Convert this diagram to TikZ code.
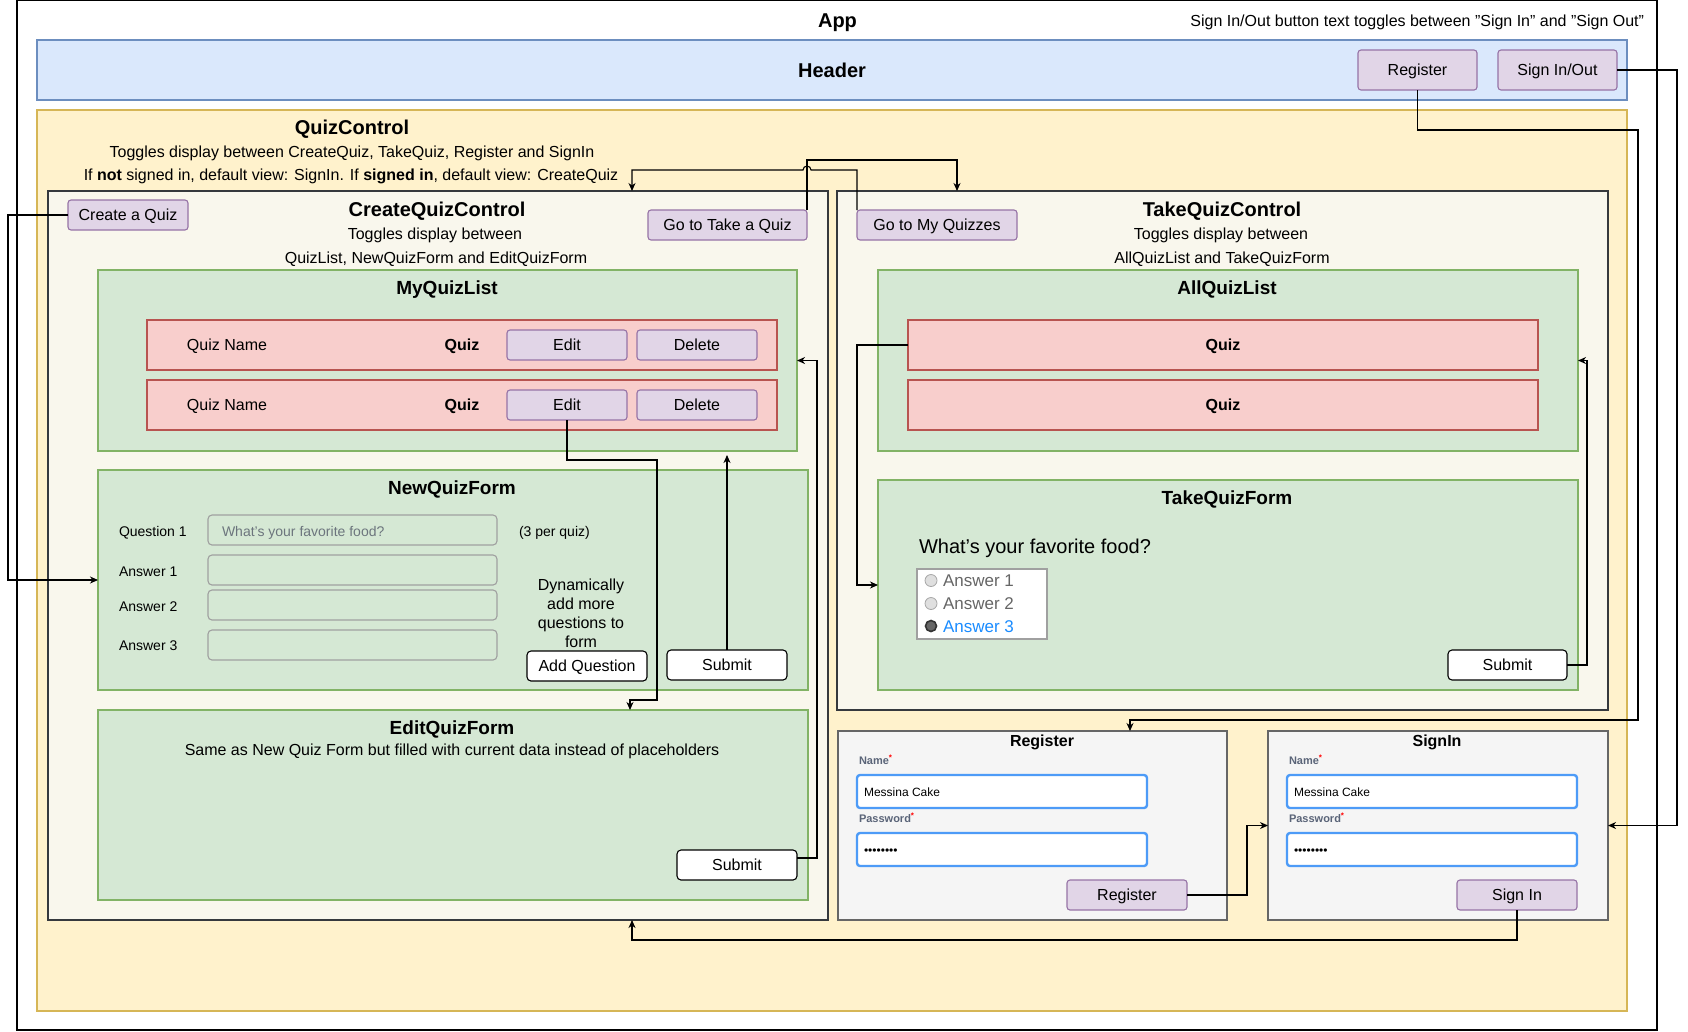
\documentclass[tikz,border=0pt]{standalone}
\usepackage{fontspec}
\setmainfont{Liberation Sans}
\usetikzlibrary{arrows.meta,calc}

\definecolor{hdrfill}{HTML}{DAE8FC}\definecolor{hdrline}{HTML}{6C8EBF}
\definecolor{qcfill}{HTML}{FFF2CC}\definecolor{qcline}{HTML}{D6B656}
\definecolor{ctrlfill}{HTML}{F9F7ED}\definecolor{ctrlline}{HTML}{36393D}
\definecolor{grnfill}{HTML}{D5E8D4}\definecolor{grnline}{HTML}{82B366}
\definecolor{redfill}{HTML}{F8CECC}\definecolor{redline}{HTML}{B85450}
\definecolor{purfill}{HTML}{E1D5E7}\definecolor{purline}{HTML}{9673A6}
\definecolor{grayfill}{HTML}{F5F5F5}\definecolor{grayline}{HTML}{666666}
\definecolor{inpline}{HTML}{A0A0A0}
\definecolor{focusline}{HTML}{4D9BF7}
\definecolor{labelgray}{HTML}{5A6478}
\definecolor{holder}{HTML}{6C757D}
\definecolor{radiotext}{HTML}{666666}
\definecolor{radioblue}{HTML}{1A8CFF}

\newcommand{\fsz}[1]{\fontsize{#1}{19}\selectfont}
% box node from its corners: name, style, x1, y1, x2, y2, text
\newcommand{\bx}[7]{\node[box,#2,minimum width={#5-#3},minimum height={#6-#4}] (#1) at ({(#3+#5)/2},{(#4+#6)/2}) {#7};}
\newcommand{\req}{\textcolor{red}{\raisebox{4pt}{\fsz{8}*}}}

\tikzset{
  % text box as tall as a capital letter, so that the node centre is the cap middle
  fs/.style={text height={0.72*#1},text depth=0pt},
  box/.style={draw,line width=1.1pt,inner sep=0pt,outer sep=0pt,font={\fsz{16}},fs=16},
  appbox/.style={fill=white,draw=black},
  hdr/.style={fill=hdrfill,draw=hdrline},
  qc/.style={fill=qcfill,draw=qcline},
  ctrl/.style={fill=ctrlfill,draw=ctrlline},
  grn/.style={fill=grnfill,draw=grnline},
  redrow/.style={fill=redfill,draw=redline},
  pbtn/.style={fill=purfill,draw=purline,rounded corners=3pt},
  wbtn/.style={fill=white,draw=black,rounded corners=4pt},
  gbox/.style={fill=grayfill,draw=grayline},
  inp/.style={fill=grnfill,draw=inpline,rounded corners=4pt},
  focusinp/.style={fill=white,draw=focusline,line width=2.4pt,rounded corners=3pt},
  radiobox/.style={fill=white,draw=inpline},
  txt/.style={inner sep=0pt,outer sep=0pt,font={\fsz{16}},fs=16},
  ttl/.style={txt,font={\bfseries\fsz{20}},fs=20},
  sub/.style={txt,font={\bfseries\fsz{19}},fs=19},
  lbl/.style={txt,anchor=west,font={\fsz{14}},fs=14},
  flbl/.style={txt,anchor=west,font={\bfseries\fsz{11}},fs=11,text=labelgray},
  ftxt/.style={txt,anchor=west,font={\fsz{12}},fs=12},
  radio/.style={circle,draw=gray!70,fill=gray!25,line width=0.8pt,minimum size=12pt,inner sep=0pt},
  radioon/.style={circle,draw=black!80,fill=black!60,line width=1.6pt,minimum size=12pt,inner sep=0pt},
  rtxt/.style={txt,anchor=west,font={\fsz{17}},fs=17,text=radiotext},
  conn/.style={draw,line width=1.1pt,-{Stealth[length=8pt,width=7pt,inset=2.5pt]}},
}

\begin{document}
\begin{tikzpicture}[x=1pt,y=-1pt]
\useasboundingbox (0,0) rectangle (1688,1031);

% outer containers
\bx{app}{appbox}{17}{0.6}{1657}{1030}{}
\bx{header}{hdr}{37}{40}{1627}{100}{}
\bx{quizctl}{qc}{37}{110}{1627}{1011}{}
\bx{createctrl}{ctrl}{48}{191}{828}{920}{}
\bx{takectrl}{ctrl}{837}{191}{1608}{710}{}

% app and header texts
\node[ttl] (apptitle) at (837.5,20) {App};
\node[txt,anchor=east] (note) at (1644,21) {Sign In/Out button text toggles between "Sign In" and "Sign Out"};
\node[ttl] (hdrtitle) at (header.center) {Header};
\bx{hreg}{pbtn}{1358}{50}{1477}{90}{Register}
\bx{hsign}{pbtn}{1498}{50}{1617}{90}{Sign In/Out}

% quiz control texts
\node[ttl] (qctitle) at (352,127) {QuizControl};
\node[txt] (qcdesc1) at (352,152) {Toggles display between CreateQuiz, TakeQuiz, Register and SignIn};
\node[txt] (qcdesc2) at (351,175) {If \textbf{not} signed in, default view: SignIn. If \textbf{signed in}, default view: CreateQuiz};

% create quiz control
\node[ttl] (cqtitle) at (437,209) {CreateQuizControl};
\node[txt] (cqdesc1) at (435,234) {Toggles display between};
\node[txt] (cqdesc2) at (436,258) {QuizList, NewQuizForm and EditQuizForm};
\bx{createbtn}{pbtn}{68}{200}{188}{230}{Create a Quiz}
\bx{takebtn}{pbtn}{648}{210}{807}{240}{Go to Take a Quiz}

% my quiz list
\bx{myquizlist}{grn}{98}{270}{797}{451}{}
\node[sub] (mqltitle) at (447,288) {MyQuizList};
\bx{r1}{redrow}{147}{320}{777}{370}{}
\bx{r2}{redrow}{147}{380}{777}{430}{}
\node[txt] (r1name) at (227,345) {Quiz Name};
\node[txt] (r2name) at (227,405) {Quiz Name};
\node[txt,font={\bfseries\fsz{16}}] (r1quiz) at (462,345) {Quiz};
\node[txt,font={\bfseries\fsz{16}}] (r2quiz) at (462,405) {Quiz};
\bx{edit1}{pbtn}{507}{330}{627}{360}{Edit}
\bx{del1}{pbtn}{637}{330}{757}{360}{Delete}
\bx{edit2}{pbtn}{507}{390}{627}{420}{Edit}
\bx{del2}{pbtn}{637}{390}{757}{420}{Delete}

% new quiz form
\bx{newform}{grn}{98}{470}{808}{690}{}
\node[sub] (nqftitle) at (452,488) {NewQuizForm};
\bx{in0}{inp}{208}{515}{497}{545}{}
\bx{in1}{inp}{208}{555}{497}{585}{}
\bx{in2}{inp}{208}{590}{497}{620}{}
\bx{in3}{inp}{208}{630}{497}{660}{}
\node[lbl] (q1lbl) at (119,531) {Question 1};
\node[lbl] (a1lbl) at (119,571) {Answer 1};
\node[lbl] (a2lbl) at (119,606) {Answer 2};
\node[lbl] (a3lbl) at (119,645) {Answer 3};
\node[lbl,text=holder] (holder) at (222,531) {What's your favorite food?};
\node[lbl] (perquiz) at (519,531) {(3 per quiz)};
\node[inner sep=0pt,outer sep=0pt,font={\fsz{16}},align=center] (dyn) at (581,613.5) {Dynamically\\add more\\questions to\\form};
\bx{addq}{wbtn}{527}{651}{647}{681}{Add Question}
\bx{submit1}{wbtn}{667}{650}{787}{680}{Submit}

% edit quiz form
\bx{editform}{grn}{98}{710}{808}{900}{}
\node[sub] (eqftitle) at (452,728) {EditQuizForm};
\node[txt] (eqfdesc) at (452,750) {Same as New Quiz Form but filled with current data instead of placeholders};
\bx{submit2}{wbtn}{677}{850}{797}{880}{Submit}

% take quiz control
\node[ttl] (tqtitle) at (1222,209) {TakeQuizControl};
\node[txt] (tqdesc1) at (1221,234) {Toggles display between};
\node[txt] (tqdesc2) at (1222,258) {AllQuizList and TakeQuizForm};
\bx{mybtn}{pbtn}{857}{210}{1017}{240}{Go to My Quizzes}

\bx{allquiz}{grn}{878}{270}{1578}{451}{}
\node[sub] (aqltitle) at (1227,288) {AllQuizList};
\bx{q1}{redrow}{908}{320}{1538}{370}{\textbf{Quiz}}
\bx{q2}{redrow}{908}{380}{1538}{430}{\textbf{Quiz}}

\bx{takeform}{grn}{878}{480}{1578}{690}{}
\node[sub] (tqftitle) at (1227,498) {TakeQuizForm};
\node[txt,anchor=west,font={\fsz{20}},fs=20] (question) at (919,546) {What's your favorite food?};
\bx{radiobox}{radiobox}{917}{569}{1047}{639}{}
\node[radio] (ra1) at (931,580.5) {};
\node[radio] (ra2) at (931,603.5) {};
\node[radioon,minimum size=11pt] (ra3) at (931,626) {};
\node[rtxt] (rt1) at (943,580.5) {Answer 1};
\node[rtxt] (rt2) at (943,603.5) {Answer 2};
\node[rtxt,text=radioblue] (rt3) at (943,626) {Answer 3};
\bx{submit3}{wbtn}{1448}{650}{1567}{680}{Submit}

% register
\bx{regbox}{gbox}{838}{731}{1227}{920}{}
\node[txt,font={\bfseries\fsz{16}}] (regtitle) at (1042,741) {Register};
\node[flbl] (rnamel) at (859,761) {Name\req};
\bx{rname}{focusinp}{857}{775}{1147}{808}{}
\node[ftxt] (rnamev) at (864,792) {Messina Cake};
\node[flbl] (rpassl) at (859,819) {Password\req};
\bx{rpass}{focusinp}{857}{833}{1147}{866}{}
\node[ftxt] (rpassv) at (864,850) {••••••••};
\bx{regbtn}{pbtn}{1067}{880}{1187}{910}{Register}

% sign in
\bx{signbox}{gbox}{1268}{731}{1608}{920}{}
\node[txt,font={\bfseries\fsz{16}}] (signtitle) at (1437,741) {SignIn};
\node[flbl] (snamel) at (1289,761) {Name\req};
\bx{sname}{focusinp}{1287}{775}{1577}{808}{}
\node[ftxt] (snamev) at (1294,792) {Messina Cake};
\node[flbl] (spassl) at (1289,819) {Password\req};
\bx{spass}{focusinp}{1287}{833}{1577}{866}{}
\node[ftxt] (spassv) at (1294,850) {••••••••};
\bx{signbtn}{pbtn}{1457}{880}{1577}{910}{Sign In}

% connectors
\draw[conn] (createbtn.west) -- (8,215) |- (newform.west);
\draw[conn] (takebtn.north east) |- (957,160) -- ($(takectrl.north west)+(120,0)$);
\draw[conn] (mybtn.north west) -- (857,170) -- (811,170)
  arc[start angle=0,end angle=-180,radius=4] -- (632,170)
  -- ($(createctrl.north west)+(584,0)$);
\draw[conn] (edit2.south) -- (567,460) -- (657,460) -- (657,700) -- (630,700)
  -- ($(editform.north west)+(532,0)$);
\draw[conn,shorten >=4pt] (submit1.north) -- (submit1.north |- myquizlist.south);
\draw[conn] ($(submit2.east)+(0,-7)$) -- (817,858) |- (myquizlist.east);
\draw[conn] (q1.west) -- (857,345) |- (takeform.west);
\draw[conn] (submit3.east) -- (1587,665) |- (allquiz.east);
\draw[conn] (hreg.south) |- (1638,130) -- (1638,720) -| ($(regbox.north west)+(292,0)$);
\draw[conn] (hsign.east) -- (1677,70) |- (signbox.east);
\draw[conn] (regbtn.east) -- (1247,895) |- (signbox.west);
\draw[conn] (signbtn.south) |- (632,940) -- ($(createctrl.south west)+(584,0)$);
\end{tikzpicture}
\end{document}
